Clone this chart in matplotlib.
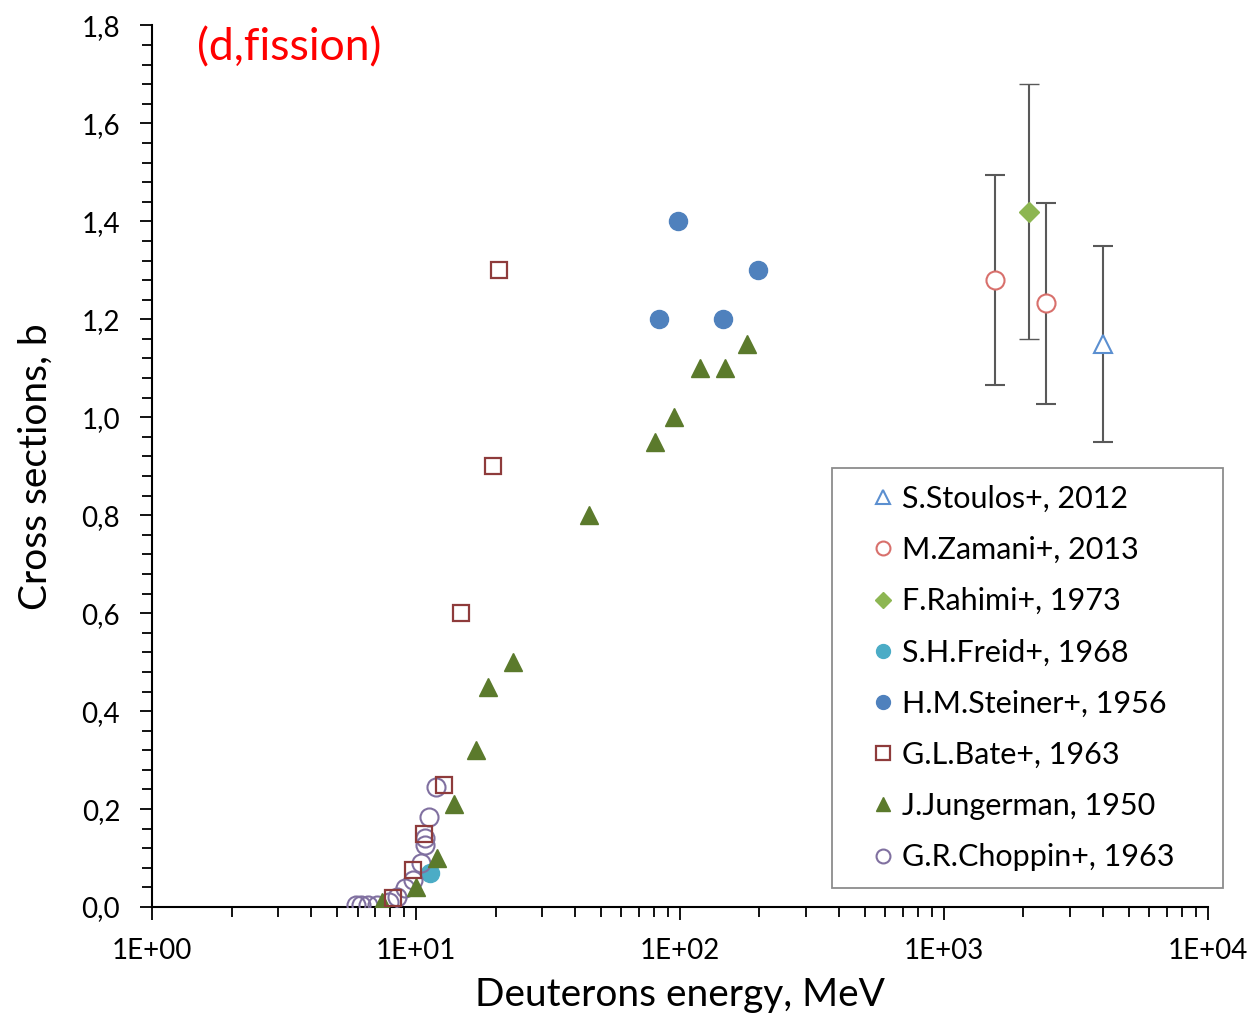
import numpy as np
import matplotlib
matplotlib.use("Agg")
import matplotlib.pyplot as plt
from matplotlib.lines import Line2D
from matplotlib.ticker import FuncFormatter, MultipleLocator, LogLocator, NullFormatter

plt.rcParams['font.family'] = ['Lato', 'DejaVu Sans']

# data (E in MeV, sigma in b)
stoulos_E = [4000]
stoulos_s = [1.15]
stoulos_err = [0.2]

zamani_E = [1560, 2430]
zamani_s = [1.28, 1.233]
zamani_err = [0.215, 0.205]

rahimi_E = [2090]
rahimi_s = [1.42]
rahimi_err = [0.26]

freid_E = [11.3]
freid_s = [0.07]

steiner_E = [83.5, 98.3, 146, 197]
steiner_s = [1.2, 1.4, 1.2, 1.3]

bate_E = [8.2, 9.7, 10.7, 12.8, 14.8, 19.6, 20.7]
bate_s = [0.018, 0.075, 0.15, 0.25, 0.6, 0.9, 1.3]

jung_E = [7.4, 10.0, 12.0, 13.9, 16.9, 18.7, 23.3, 45.2, 80.4, 94.9, 119, 148.5, 179]
jung_s = [0.01, 0.04, 0.1, 0.21, 0.32, 0.45, 0.5, 0.8, 0.95, 1.0, 1.1, 1.1, 1.15]

chop_E = [5.9, 6.2, 6.6, 7.1, 7.9, 8.5, 9.1, 9.7, 10.4, 10.8, 10.8, 11.2, 11.9]
chop_s = [0.004, 0.004, 0.004, 0.004, 0.01, 0.02, 0.039, 0.055, 0.09, 0.127, 0.141, 0.184, 0.245]

# marker styles per series
styles = {
    'S.Stoulos+, 2012': dict(marker='^', mfc='white', mec='#5B8FD0', mew=1.5),
    'M.Zamani+, 2013': dict(marker='o', mfc='white', mec='#D8706C', mew=1.5),
    'F.Rahimi+, 1973': dict(marker='D', mfc='#8DB652', mec='#8DB652', mew=1),
    'S.H.Freid+, 1968': dict(marker='o', mfc='#4BACC6', mec='#4BACC6', mew=1),
    'H.M.Steiner+, 1956': dict(marker='o', mfc='#4F81BD', mec='#4F81BD', mew=1),
    'G.L.Bate+, 1963': dict(marker='s', mfc='none', mec='#8E3B3B', mew=1.6),
    'J.Jungerman, 1950': dict(marker='^', mfc='#5B7A2C', mec='#5B7A2C', mew=1),
    'G.R.Choppin+, 1963': dict(marker='o', mfc='none', mec='#8070A0', mew=1.5),
}

fig = plt.figure(figsize=(12.57, 10.18), dpi=100)
ax = fig.add_axes([0.121, 0.109, 0.840, 0.866])

ms = 13
ax.plot(chop_E, chop_s, ls='none', ms=ms, zorder=3, **styles['G.R.Choppin+, 1963'])
ax.plot(jung_E, jung_s, ls='none', ms=ms, zorder=3, **styles['J.Jungerman, 1950'])
ax.plot(bate_E, bate_s, ls='none', ms=12, zorder=4, **styles['G.L.Bate+, 1963'])
ax.plot(steiner_E, steiner_s, ls='none', ms=ms, zorder=3, **styles['H.M.Steiner+, 1956'])
ax.plot(freid_E, freid_s, ls='none', ms=ms, zorder=2, **styles['S.H.Freid+, 1968'])

eb = dict(ecolor='#595959', elinewidth=1.5, capsize=7, capthick=1.5, ls='none', zorder=3)
ax.errorbar(rahimi_E, rahimi_s, yerr=rahimi_err, ms=10, **eb, **styles['F.Rahimi+, 1973'])
ax.errorbar(zamani_E, zamani_s, yerr=zamani_err, ms=13, **eb, **styles['M.Zamani+, 2013'])
ax.errorbar(stoulos_E, stoulos_s, yerr=stoulos_err, ms=13, **eb, **styles['S.Stoulos+, 2012'])

ax.set_xscale('log')
ax.set_xlim(1, 1e4)
ax.set_ylim(0, 1.8)

ax.spines['top'].set_visible(False)
ax.spines['right'].set_visible(False)
for s in ['left', 'bottom']:
    ax.spines[s].set_linewidth(1.5)

ax.yaxis.set_major_locator(MultipleLocator(0.2))
ax.yaxis.set_minor_locator(MultipleLocator(0.04))
ax.yaxis.set_major_formatter(FuncFormatter(lambda v, p: f"{v:.1f}".replace('.', ',')))
ax.xaxis.set_major_locator(LogLocator(base=10, numticks=10))
ax.xaxis.set_minor_locator(LogLocator(base=10, subs=np.arange(2, 10), numticks=20))
ax.xaxis.set_minor_formatter(NullFormatter())
ax.xaxis.set_major_formatter(FuncFormatter(lambda v, p: f"1E+{int(round(np.log10(v))):02d}"))

ax.tick_params(axis='both', which='both', direction='out', width=1.3, colors='black', labelsize=20)
ax.tick_params(axis='both', which='major', length=9)
ax.tick_params(axis='both', which='minor', length=7)
ax.tick_params(axis='x', which='major', pad=13)
ax.tick_params(axis='y', which='major', pad=14)

ax.set_xlabel('Deuterons energy, MeV', fontsize=28, labelpad=10)
ax.set_ylabel('Cross sections, b', fontsize=28, labelpad=20)

ax.text(0.043, 0.998, '(d,fission)', transform=ax.transAxes, color='red', fontsize=32, va='top', ha='left')

names = list(styles.keys())
handles = [Line2D([], [], ls='none', ms=10 if styles[n]['marker'] != 'D' else 8, **styles[n]) for n in names]
leg = ax.legend(handles, [n + '    ' for n in names],
                loc='upper left', bbox_to_anchor=(0.644, 0.498), fontsize=22,
                frameon=True, fancybox=False, framealpha=1, edgecolor='#8C8C8C',
                labelspacing=0.76, handlelength=2.2, handletextpad=-0.45, borderpad=0.55,
                borderaxespad=0)
leg.get_frame().set_linewidth(1.3)

fig.savefig('out.png', dpi=100)
